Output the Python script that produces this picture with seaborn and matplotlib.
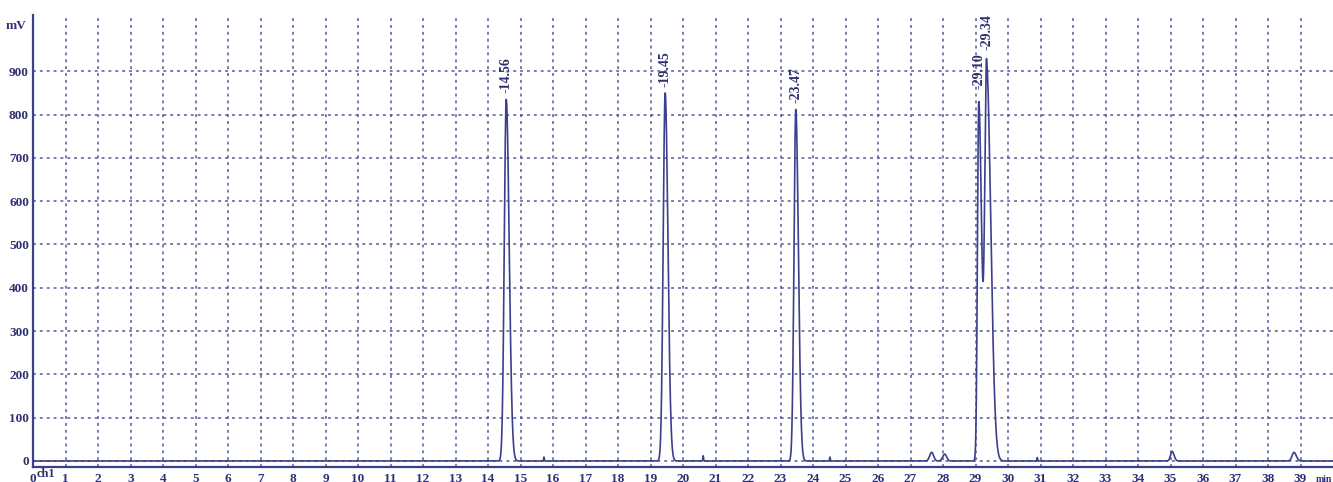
import numpy as np
import pandas as pd
import matplotlib
matplotlib.use("Agg")
import matplotlib.pyplot as plt
import seaborn as sns

# ---- data ----
peak_times = [14.56, 19.45, 23.47, 29.10, 29.34, 27.65, 28.05, 35.05, 38.80, 15.72, 20.62, 24.52, 30.90]
peak_heights = [835, 850, 812, 830, 905, 20, 16, 22, 20, 9, 12, 9, 8]
peak_sigma_left = [0.060, 0.060, 0.055, 0.040, 0.055, 0.06, 0.06, 0.05, 0.06, 0.01, 0.01, 0.01, 0.01]
peak_sigma_right = [0.090, 0.085, 0.080, 0.090, 0.130, 0.06, 0.06, 0.06, 0.07, 0.01, 0.01, 0.01, 0.01]

label_times = [14.56, 19.45, 23.47, 29.10, 29.34]
label_heights = [835, 850, 812, 845, 935]
label_texts = ["14.56", "19.45", "23.47", "29.10", "29.34"]

x_ticks = list(range(0, 40))
y_ticks = [0, 100, 200, 300, 400, 500, 600, 700, 800, 900]

# ---- build trace ----
t = np.arange(0, 40.0, 0.004)
signal = np.zeros_like(t)
for mu, h, sl, sr in zip(peak_times, peak_heights, peak_sigma_left, peak_sigma_right):
    s = np.where(t < mu, sl, sr)
    signal += h * np.exp(-0.5 * ((t - mu) / s) ** 2)
df = pd.DataFrame({"time": t, "mV": signal})

navy = "#3b3f8c"
grid_col = "#55589a"
text_col = "#2e3070"

sns.set_theme(style="white")
plt.rcParams["font.family"] = ["Liberation Serif", "DejaVu Serif"]

fig = plt.figure(figsize=(13.33, 4.82), dpi=100)
ax = fig.add_axes([0.0248, 0.031, 0.9752, 0.938])

sns.lineplot(data=df, x="time", y="mV", ax=ax, color=navy, linewidth=1.2)

ax.set_xlim(0, 40)
ax.set_ylim(-14, 1030)
ax.set_xticks(x_ticks)
ax.set_xticklabels([str(v) for v in x_ticks])
ax.set_yticks(y_ticks)
ax.set_yticklabels([str(v) for v in y_ticks])

for v in x_ticks[1:]:
    ax.axvline(v, color=grid_col, alpha=0.85, linestyle=(0, (1.6, 2.2)), linewidth=1.3, zorder=0)
for v in y_ticks:
    ax.axhline(v, color=grid_col, alpha=0.85, linestyle=(0, (1.6, 2.2)), linewidth=1.3, zorder=0)

ax.tick_params(axis="both", which="major", length=4, width=1.0, color=navy,
               labelsize=9.5, labelcolor=text_col, pad=1, direction="inout")
ax.tick_params(axis="x", pad=2)
for lab in ax.get_xticklabels() + ax.get_yticklabels():
    lab.set_fontweight("bold")

for side in ["top", "right"]:
    ax.spines[side].set_visible(False)
for side in ["left", "bottom"]:
    ax.spines[side].set_color(navy)
    ax.spines[side].set_linewidth(1.6)

ax.set_xlabel("")
ax.set_ylabel("")

for tm, h, txt in zip(label_times, label_heights, label_texts):
    ax.text(tm, h + 14, "-" + txt, rotation=90, ha="center", va="bottom",
            fontsize=10, fontweight="bold", color=text_col)

ax.text(-0.2, 1005, "mV", ha="right", va="center", fontsize=9.5,
        fontweight="bold", color=text_col, clip_on=False)
ax.text(0.12, -16, "ch1", ha="left", va="top", fontsize=9,
        fontweight="bold", color=text_col, clip_on=False)
ax.text(39.98, -33, "min", ha="right", va="top", fontsize=7,
        fontweight="bold", color=text_col, clip_on=False)

fig.savefig("out.png", dpi=100)
